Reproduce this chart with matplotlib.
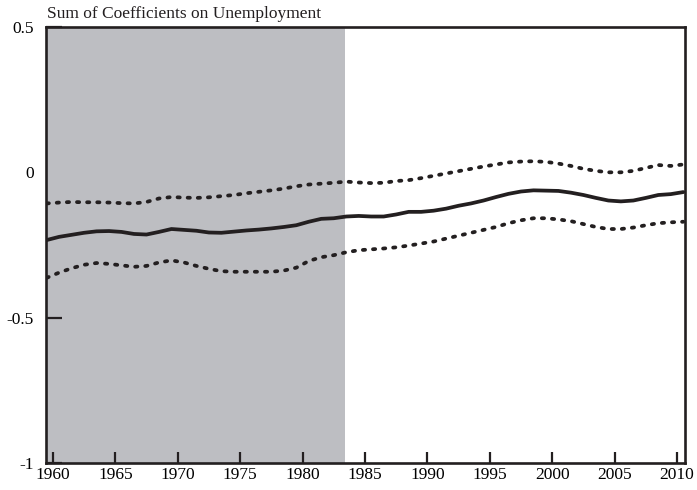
import numpy as np
import matplotlib.pyplot as plt

years = np.arange(1959.5, 2011.0, 1.0)

middle = [-0.233, -0.222, -0.215, -0.208, -0.203, -0.202, -0.205, -0.212, -0.214, -0.205,
          -0.195, -0.198, -0.201, -0.207, -0.208, -0.204, -0.200, -0.197, -0.193, -0.188,
          -0.182, -0.170, -0.160, -0.158, -0.152, -0.150, -0.152, -0.152, -0.145, -0.136,
          -0.136, -0.132, -0.125, -0.115, -0.107, -0.097, -0.085, -0.074, -0.066, -0.062,
          -0.063, -0.064, -0.070, -0.078, -0.088, -0.097, -0.100, -0.097, -0.088, -0.078,
          -0.075, -0.068]

upper = [-0.107, -0.104, -0.102, -0.103, -0.103, -0.104, -0.106, -0.107, -0.102, -0.090,
         -0.085, -0.087, -0.088, -0.086, -0.082, -0.078, -0.072, -0.067, -0.062, -0.056,
         -0.048, -0.042, -0.039, -0.036, -0.032, -0.035, -0.037, -0.036, -0.030, -0.027,
         -0.020, -0.012, -0.004, 0.004, 0.012, 0.020, 0.027, 0.034, 0.037, 0.038,
         0.036, 0.030, 0.022, 0.012, 0.005, 0.000, 0.000, 0.005, 0.015, 0.025,
         0.022, 0.027]

lower = [-0.363, -0.345, -0.330, -0.318, -0.312, -0.315, -0.320, -0.325, -0.322, -0.310,
         -0.303, -0.310, -0.322, -0.332, -0.340, -0.342, -0.342, -0.342, -0.342, -0.338,
         -0.328, -0.305, -0.292, -0.285, -0.275, -0.268, -0.265, -0.262, -0.258, -0.252,
         -0.245, -0.238, -0.228, -0.218, -0.208, -0.198, -0.188, -0.175, -0.165, -0.158,
         -0.158, -0.162, -0.168, -0.178, -0.188, -0.195, -0.195, -0.190, -0.182, -0.175,
         -0.172, -0.170]

shade_start, shade_end = 1959.4, 1983.4
xticks = [1960, 1965, 1970, 1975, 1980, 1985, 1990, 1995, 2000, 2005, 2010]
yticks = [-1, -0.5, 0, 0.5]
ylabels = ['-1', '-0.5', '0', '0.5']

plt.rcParams['font.family'] = ['Liberation Serif', 'DejaVu Serif']

fig = plt.figure(figsize=(6.97, 4.9), dpi=100)
ax = fig.add_axes([0.066, 0.055, 0.917, 0.89])

ax.axvspan(shade_start, shade_end, color='#bdbec2', lw=0, zorder=0)
ax.plot(years, middle, color='#231f20', lw=2.7, solid_capstyle='round')
dots = (0, (0.6, 2.1))
ax.plot(years, upper, color='#231f20', lw=2.7, linestyle=dots, dash_capstyle='round')
ax.plot(years, lower, color='#231f20', lw=2.7, linestyle=dots, dash_capstyle='round')

ax.set_xlim(1959.45, 2010.65)
ax.set_ylim(-1, 0.5)
ax.set_xticks(xticks)
ax.set_yticks(yticks)
ax.set_yticklabels(ylabels)

for s in ax.spines.values():
    s.set_linewidth(1.9)
    s.set_color('#231f20')

ax.tick_params(axis='x', direction='in', length=8, width=1.6, labelsize=12.5, pad=3, color='#231f20')
ax.tick_params(axis='y', direction='in', length=11.5, width=1.6, labelsize=12.5, pad=9, color='#231f20')
ax.yaxis.get_major_ticks()[2].tick1line.set_visible(False)

fig.text(0.067, 0.963, 'Sum of Coefficients on Unemployment', fontsize=12.5, color='#231f20')

fig.savefig('out.png', dpi=100)
